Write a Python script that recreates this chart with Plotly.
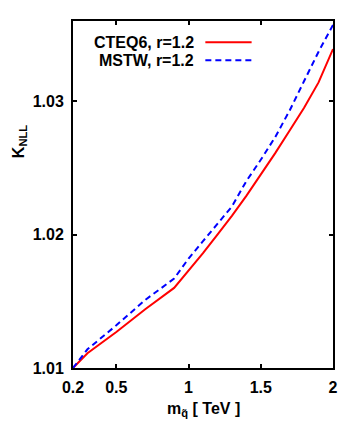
import plotly.graph_objects as go

# squark mass in TeV
mass = [0.2, 0.3, 0.5, 0.7, 0.9, 1.0, 1.1, 1.2, 1.3, 1.4, 1.5, 1.6, 1.7, 1.8, 1.9, 2.0]

# K_NLL for each PDF set
k_cteq = [1.0100, 1.0111, 1.0127, 1.0144, 1.0160, 1.0173, 1.0186, 1.0200, 1.0214, 1.0229,
          1.0245, 1.0261, 1.0278, 1.0295, 1.0314, 1.0339]
k_mstw = [1.0100, 1.0114, 1.0132, 1.0151, 1.0167, 1.0182, 1.0195, 1.0208, 1.0221, 1.0240,
          1.0256, 1.0273, 1.0293, 1.0315, 1.0337, 1.0357]

labels = ["CTEQ6, r=1.2", "MSTW, r=1.2"]
colors = ["#ff0000", "#0000ff"]
dashes = ["solid", "6px,4px"]

x_ticks = [0.2, 0.5, 1, 1.5, 2]
y_ticks = [1.01, 1.02, 1.03]

font = dict(family="Liberation Sans, Arial, sans-serif", size=16, color="black")

fig = go.Figure()
for y, name, c, d in zip([k_cteq, k_mstw], labels, colors, dashes):
    fig.add_trace(go.Scatter(x=mass, y=y, mode="lines", name=name,
                             line=dict(color=c, width=2, dash=d), showlegend=False))

# gnuplot style key: text then line sample
for i, (name, c, d) in enumerate(zip(labels, colors, dashes)):
    yk = 0.939 - i * 0.052
    fig.add_annotation(x=0.472, y=yk, xref="paper", yref="paper", text="<b>" + name + "</b>",
                       showarrow=False, xanchor="right", yanchor="middle", font=font)
    fig.add_shape(type="line", xref="paper", yref="paper", x0=0.509, x1=0.687, y0=yk, y1=yk,
                  line=dict(color=c, width=2, dash=d))

axis = dict(showline=True, linecolor="black", linewidth=2, mirror="allticks",
            ticks="inside", ticklen=4, tickwidth=1.5, tickcolor="black",
            showgrid=False, zeroline=False, tickfont=font, ticklabelstandoff=4)

fig.update_xaxes(axis, range=[0.2, 2], tickvals=x_ticks,
                 ticktext=["<b>%g</b>" % v for v in x_ticks])
fig.update_yaxes(axis, range=[1.01, 1.036], tickvals=y_ticks,
                 ticktext=["<b>%.2f</b>" % v for v in y_ticks])

fig.add_annotation(x=-0.2075, y=0.651, xref="paper", yref="paper", text="<b>K<sub>NLL</sub></b>",
                   showarrow=False, textangle=-90, xanchor="center", yanchor="middle", font=font)
fig.add_annotation(x=0.5, y=-0.121, xref="paper", yref="paper",
                   text="<b>m<sub>q\u0303</sub> [ TeV ]</b>",
                   showarrow=False, xanchor="center", yanchor="middle", font=font)

# page body keeps an 8px margin, so keep the figure inside the window
fig.update_layout(width=333, height=421, margin=dict(l=65, r=3, t=13, b=61),
                  plot_bgcolor="white", paper_bgcolor="white", font=font)

fig.write_html("out.html")
